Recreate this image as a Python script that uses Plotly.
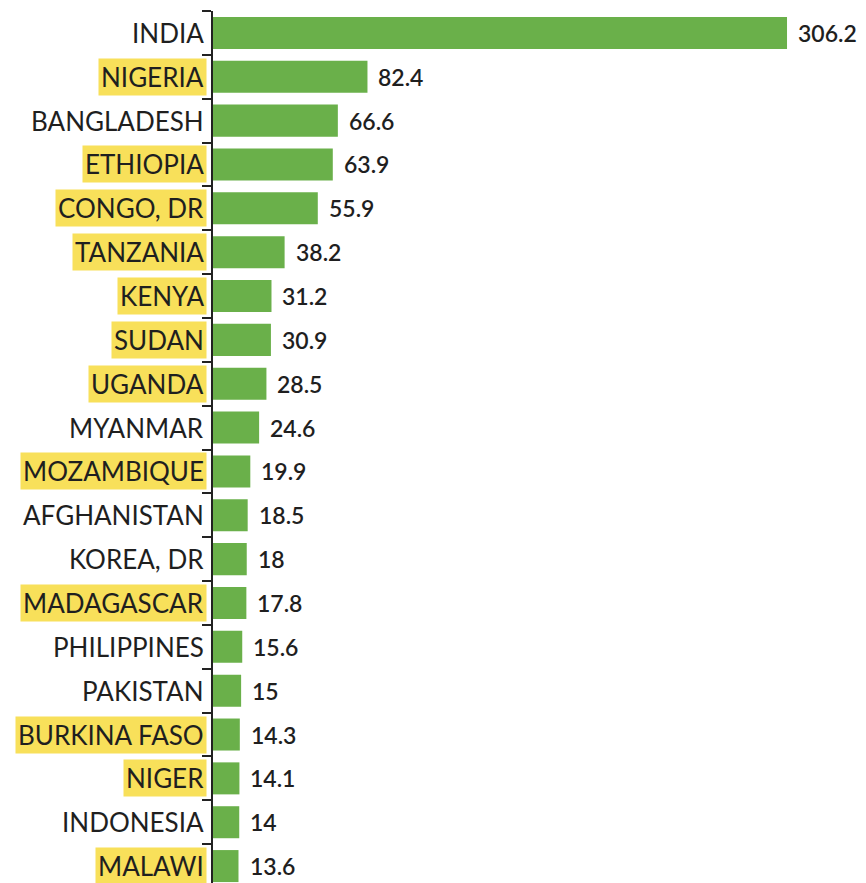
import plotly.graph_objects as go

countries = ["INDIA", "NIGERIA", "BANGLADESH", "ETHIOPIA", "CONGO, DR", "TANZANIA",
             "KENYA", "SUDAN", "UGANDA", "MYANMAR", "MOZAMBIQUE", "AFGHANISTAN",
             "KOREA, DR", "MADAGASCAR", "PHILIPPINES", "PAKISTAN", "BURKINA FASO",
             "NIGER", "INDONESIA", "MALAWI"]
values = [306.2, 82.4, 66.6, 63.9, 55.9, 38.2, 31.2, 30.9, 28.5, 24.6, 19.9, 18.5,
          18, 17.8, 15.6, 15, 14.3, 14.1, 14, 13.6]
value_labels = ["306.2", "82.4", "66.6", "63.9", "55.9", "38.2", "31.2", "30.9", "28.5",
                "24.6", "19.9", "18.5", "18", "17.8", "15.6", "15", "14.3", "14.1", "14", "13.6"]
highlighted = ["NIGERIA", "ETHIOPIA", "CONGO, DR", "TANZANIA", "KENYA", "SUDAN", "UGANDA",
               "MOZAMBIQUE", "MADAGASCAR", "BURKINA FASO", "NIGER", "MALAWI"]

GREEN = "#6AB04A"
YELLOW = "#F8E05A"
TEXT = "#1f1f1f"
FONT = "Lato"

fig = go.Figure(go.Bar(
    x=values, y=countries, orientation="h",
    marker=dict(color=GREEN, line=dict(width=0)),
    width=0.73,
    hoverinfo="skip",
))

annotations = []
for c, v, lab in zip(countries, values, value_labels):
    hl = c in highlighted
    annotations.append(dict(
        x=0, xref="paper", y=c, yref="y", text=c, showarrow=False,
        xanchor="right", yanchor="middle", xshift=-6,
        font=dict(family=FONT, size=26, color=TEXT),
        bgcolor=YELLOW if hl else "rgba(0,0,0,0)", borderpad=2,
    ))
    annotations.append(dict(
        x=v, xref="x", y=c, yref="y", text=lab, showarrow=False,
        xanchor="left", yanchor="middle", xshift=9,
        font=dict(family=FONT, size=23, color=TEXT, weight=600),
    ))

fig.update_layout(
    width=866, height=883,
    margin=dict(l=205, r=0, t=3, b=3),
    paper_bgcolor="white", plot_bgcolor="white",
    showlegend=False,
    annotations=annotations,
    xaxis=dict(visible=False, range=[0, 352.6]),
    yaxis=dict(
        type="category", categoryorder="array", categoryarray=countries,
        range=[19.5, -0.5], autorange=False,
        showline=True, linecolor="#222", linewidth=2,
        ticks="outside", ticklen=9, tickwidth=2, tickcolor="#222",
        tickson="boundaries", showticklabels=False, showgrid=False, zeroline=False,
    ),
)

fig.write_html("out.html")
